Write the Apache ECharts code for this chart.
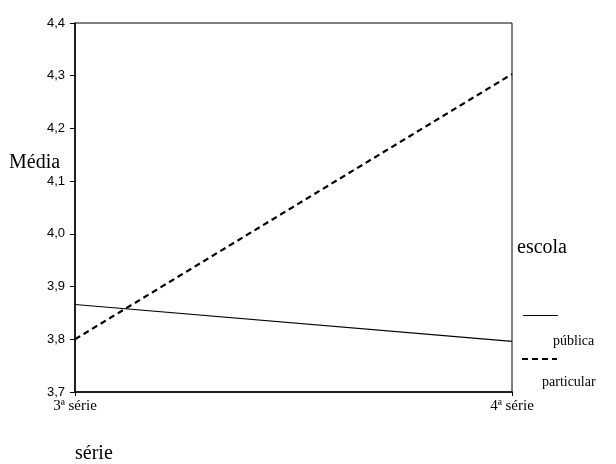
<!DOCTYPE html>
<html>
<head>
<meta charset="utf-8">
<script src="https://cdn.jsdelivr.net/npm/echarts@6/dist/echarts.min.js"></script>
<style>html,body{margin:0;padding:0;background:#fff}#c{width:616px;height:464px}</style>
</head>
<body>
<div id="c"></div>
<script>
var categories = ['3ª série', '4ª série'];
var publica = [3.866, 3.796];
var particular = [3.800, 4.303];
var yTicks = [3.7, 3.8, 3.9, 4.0, 4.1, 4.2, 4.3, 4.4];

var chart = echarts.init(document.getElementById('c'), null, {renderer: 'canvas'});
var serif = '"Liberation Serif", "Times New Roman", serif';
var sans = '"Liberation Sans", Arial, sans-serif';
chart.setOption({
  animation: false,
  backgroundColor: '#fff',
  grid: {left: 75, right: 104, top: 23, bottom: 72, show: true, borderColor: '#000', borderWidth: 1, backgroundColor: 'transparent'},
  xAxis: {
    type: 'category', data: categories, boundaryGap: false,
    axisLine: {lineStyle: {color: '#000', width: 1.5}},
    axisTick: {show: true, length: 4, lineStyle: {color: '#000'}},
    axisLabel: {color: '#000', fontFamily: serif, fontSize: 15, margin: 7},
    splitLine: {show: false}
  },
  yAxis: {
    type: 'value', min: yTicks[0], max: yTicks[yTicks.length - 1], interval: 0.1,
    axisLine: {show: true, lineStyle: {color: '#000', width: 1.5}},
    axisTick: {show: true, length: 5, lineStyle: {color: '#000'}},
    axisLabel: {color: '#000', fontFamily: sans, fontSize: 13, margin: 10,
      formatter: function (v) { return v.toFixed(1).replace('.', ','); }},
    splitLine: {show: false}
  },
  series: [
    {name: 'pública', type: 'line', data: publica, symbol: 'none',
     lineStyle: {color: '#000', width: 1.2, type: 'solid'}},
    {name: 'particular', type: 'line', data: particular, symbol: 'none',
     lineStyle: {color: '#000', width: 2.2, type: [6, 4]}}
  ],
  graphic: [
    {type: 'text', left: 9, top: 153, style: {text: 'Média', font: '20px ' + serif, fill: '#000'}},
    {type: 'text', left: 517, top: 238, style: {text: 'escola', font: '20px ' + serif, fill: '#000'}},
    {type: 'text', left: 75, top: 444, style: {text: 'série', font: '20px ' + serif, fill: '#000'}},
    {type: 'line', shape: {x1: 523, y1: 315.5, x2: 558, y2: 315.5}, style: {stroke: '#000', lineWidth: 1}},
    {type: 'text', left: 553, top: 334, style: {text: 'pública', font: '14px ' + serif, fill: '#000'}},
    {type: 'line', shape: {x1: 522, y1: 359, x2: 557, y2: 359}, style: {stroke: '#000', lineWidth: 2.2, lineDash: [6, 4]}},
    {type: 'text', left: 542, top: 375, style: {text: 'particular', font: '14px ' + serif, fill: '#000'}}
  ]
});
</script>
</body>
</html>
